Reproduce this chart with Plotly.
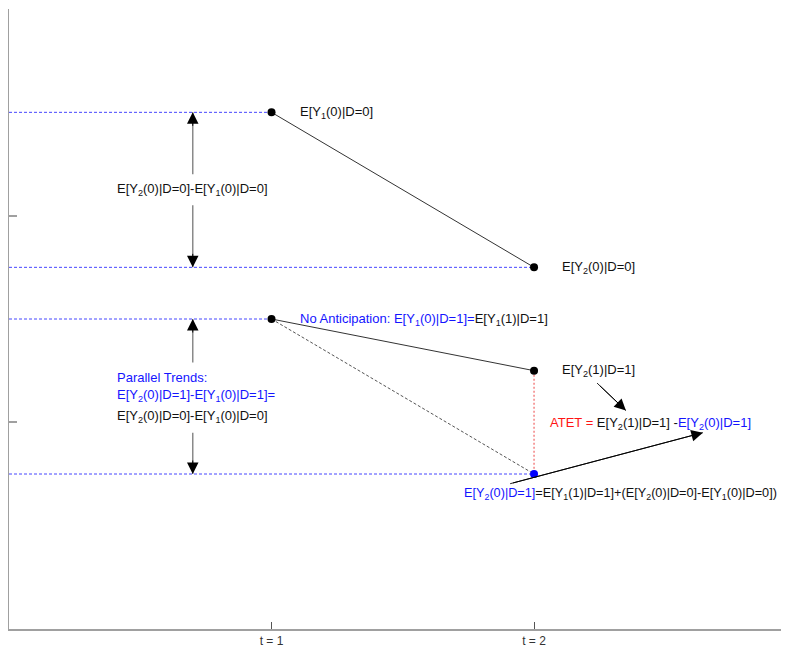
import plotly.graph_objects as go

# ---- data ----
periods = [1, 2]
period_labels = ["t = 1", "t = 2"]
control_means = [2.5, 1.75]          # E[Y_t(0)|D=0]
treated_means = [1.5, 1.25]          # E[Y_1(0)|D=1], E[Y_2(1)|D=1]
counterfactual_means = [1.5, 0.75]   # E[Y_1(0)|D=1], E[Y_2(0)|D=1]
y_ticks = [0, 1, 2, 3]

BLUE = "rgb(20,20,255)"
RED = "rgb(255,20,20)"
BLACK = "#111111"
FONT = "Liberation Sans, Arial, sans-serif"


def blue(s):
    return f'<span style="color:{BLUE}">{s}</span>'


def red(s):
    return f'<span style="color:{RED}">{s}</span>'


fig = go.Figure()

# horizontal reference lines (blue dashed)
ref_lines = [
    (periods[0], control_means[0]),
    (periods[1], control_means[1]),
    (periods[0], treated_means[0]),
    (periods[1], counterfactual_means[1]),
]
for xe, yv in ref_lines:
    fig.add_trace(go.Scatter(x=[0, xe], y=[yv, yv], mode="lines",
                             line=dict(color="rgb(70,70,255)", width=1, dash="3px,2px"),
                             hoverinfo="skip", showlegend=False))

# counterfactual trend (dotted black)
fig.add_trace(go.Scatter(x=periods, y=counterfactual_means, mode="lines",
                         line=dict(color="#555555", width=1, dash="3px,2px"),
                         hoverinfo="skip", showlegend=False))
# treatment effect (red dotted vertical)
fig.add_trace(go.Scatter(x=[periods[1], periods[1]],
                         y=[treated_means[1], counterfactual_means[1]], mode="lines",
                         line=dict(color="rgb(240,100,100)", width=1.2, dash="2px,2px"),
                         hoverinfo="skip", showlegend=False))
# control and treated paths (solid)
fig.add_trace(go.Scatter(x=periods, y=control_means, mode="lines+markers",
                         line=dict(color="#333333", width=1),
                         marker=dict(color="black", size=8),
                         hoverinfo="skip", showlegend=False))
fig.add_trace(go.Scatter(x=periods, y=treated_means, mode="lines+markers",
                         line=dict(color="#333333", width=1),
                         marker=dict(color="black", size=8),
                         hoverinfo="skip", showlegend=False))
# counterfactual point
fig.add_trace(go.Scatter(x=[periods[1]], y=[counterfactual_means[1]], mode="markers",
                         marker=dict(color="rgb(0,0,255)", size=8),
                         hoverinfo="skip", showlegend=False))

# double-arrow shafts (gray) with black heads
arrow_x = 0.70
shafts = [
    (2.2, control_means[0]),
    (2.05, control_means[1]),
    (1.29, treated_means[0]),
    (0.95, counterfactual_means[1]),
]
for tail, head in shafts:
    fig.add_trace(go.Scatter(x=[arrow_x, arrow_x], y=[tail, head], mode="lines",
                             line=dict(color="#8a8a8a", width=1.5),
                             hoverinfo="skip", showlegend=False))
    direction = 1 if head > tail else -1
    fig.add_annotation(x=arrow_x, y=head, ax=0, ay=22 * direction, axref="pixel",
                       ayref="pixel", showarrow=True, arrowhead=2, arrowsize=2.3,
                       arrowwidth=1, arrowcolor="black", text=" ")

# pointing arrows (black shafts + heads)
pointers = [
    ((2.24, 1.19), (2.35, 1.057)),
    ((1.909, 0.703), (2.643, 0.95)),
]
for (tx, ty), (hx, hy) in pointers:
    fig.add_trace(go.Scatter(x=[tx, hx], y=[ty, hy], mode="lines",
                             line=dict(color="#222222", width=1),
                             hoverinfo="skip", showlegend=False))
    fig.add_annotation(x=hx, y=hy, ax=tx, ay=ty, axref="x", ayref="y",
                       showarrow=True, arrowhead=2, arrowsize=2.3, arrowwidth=1,
                       arrowcolor="black", text=" ")

# text labels
labels = [
    (1.1, 2.5, 13, "E[Y<sub>1</sub>(0)|D=0]"),
    (2.1, 1.75, 13, "E[Y<sub>2</sub>(0)|D=0]"),
    (1.1, 1.5, 13, blue("No Anticipation: E[Y<sub>1</sub>(0)|D=1]=") + "E[Y<sub>1</sub>(1)|D=1]"),
    (2.1, 1.25, 13, "E[Y<sub>2</sub>(1)|D=1]"),
    (2.054, 0.995, 13, red("ATET = ") + "E[Y<sub>2</sub>(1)|D=1] -" + blue("E[Y<sub>2</sub>(0)|D=1]")),
    (1.725, 0.655, 12.7, blue("E[Y<sub>2</sub>(0)|D=1]") + "=E[Y<sub>1</sub>(1)|D=1]+(E[Y<sub>2</sub>(0)|D=0]-E[Y<sub>1</sub>(0)|D=0])"),
    (0.403, 2.127, 13, "E[Y<sub>2</sub>(0)|D=0]-E[Y<sub>1</sub>(0)|D=0]"),
    (0.403, 1.217, 13, blue("Parallel Trends:")),
    (0.403, 1.129, 13, blue("E[Y<sub>2</sub>(0)|D=1]-E[Y<sub>1</sub>(0)|D=1]=")),
    (0.403, 1.027, 13, "E[Y<sub>2</sub>(0)|D=0]-E[Y<sub>1</sub>(0)|D=0]"),
]
for x, y, size, t in labels:
    fig.add_annotation(x=x, y=y, text=t, showarrow=False, xanchor="left",
                       yanchor="middle", font=dict(family=FONT, size=size, color=BLACK))

# the page body has an 8px default margin, so the figure is sized to the remaining area
fig.update_layout(
    width=782, height=646,
    margin=dict(l=1, r=0, t=1, b=25),
    plot_bgcolor="white", paper_bgcolor="white",
    font=dict(family=FONT, size=12, color="#333333"),
    xaxis=dict(range=[0, 2.975], tickvals=periods, ticktext=period_labels,
               ticks="inside", ticklen=7, tickcolor="#555555", tickwidth=1,
               showline=True, linecolor="#a0a0a0", linewidth=1.5,
               showgrid=False, zeroline=False,
               tickfont=dict(family=FONT, size=12, color="#333333")),
    yaxis=dict(range=[0, 3], tickvals=y_ticks, showticklabels=False,
               ticks="inside", ticklen=8, tickcolor="#a0a0a0", tickwidth=1.5,
               showline=True, linecolor="#a0a0a0", linewidth=1.5,
               showgrid=False, zeroline=False),
)

fig.write_html("out.html")
